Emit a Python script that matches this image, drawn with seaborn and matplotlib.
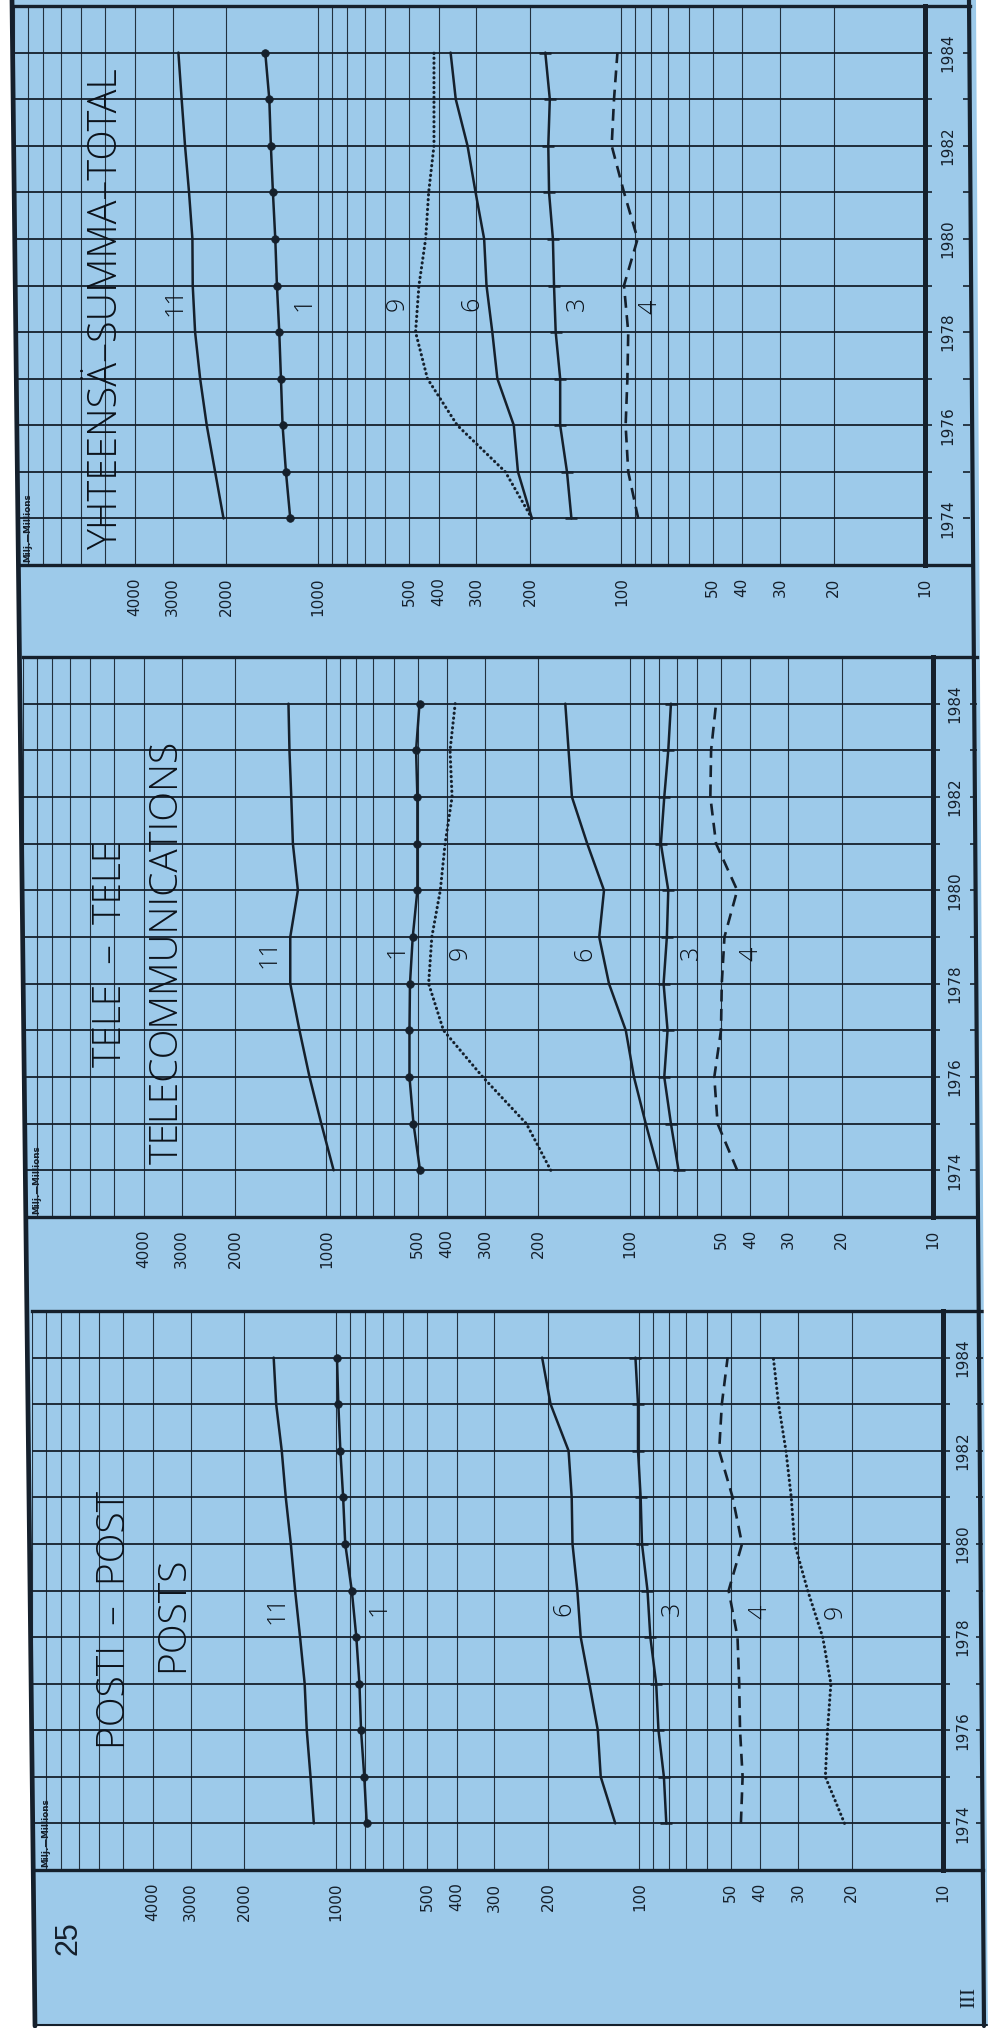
import matplotlib
matplotlib.use("Agg")
import matplotlib.pyplot as plt
import seaborn as sns
from matplotlib.lines import Line2D
from matplotlib.patches import Polygon
from matplotlib.ticker import NullLocator

# ------------------------------------------------------------------ data
YEARS = [1974, 1975, 1976, 1977, 1978, 1979, 1980, 1981, 1982, 1983, 1984]

# POSTI - POST - POSTS (millions)
POSTS_11 = [1180, 1210, 1245, 1265, 1310, 1360, 1405, 1460, 1505, 1570, 1600]
POSTS_1 = [790, 805, 825, 835, 855, 885, 930, 945, 965, 980, 990]
POSTS_6 = [120, 134, 137, 146, 156, 160, 166, 167, 171, 196, 209]
POSTS_3 = [81.5, 83, 86.5, 88, 92, 94, 98, 99, 101, 101, 103]
POSTS_4 = [46.3, 45.7, 46.6, 46.9, 47.5, 50.8, 45.9, 49.3, 54.6, 53.5, 51.2]
POSTS_9 = [21.1, 24.4, 24.0, 23.4, 24.9, 27.9, 30.8, 31.6, 32.9, 34.8, 36.2]

# TELE - TELE - TELECOMMUNICATIONS
TELE_11 = [946, 1039, 1136, 1226, 1315, 1315, 1241, 1289, 1305, 1323, 1333]
TELE_1 = [491, 516, 532, 532, 530, 519, 501, 501, 501, 506, 493]
TELE_9 = [182, 219, 305, 411, 460, 449, 421, 406, 385, 391, 376]
TELE_6 = [80.4, 88.5, 96.8, 103, 117, 126, 121.5, 138, 155, 159, 163]
TELE_3 = [69, 73.1, 76.9, 75, 77.3, 75.4, 74.6, 78.9, 76.9, 74.6, 73.1]
TELE_4 = [44.2, 51.3, 52.6, 50, 49.7, 48.7, 44.2, 51.9, 54.2, 53.9, 51.9]

# YHTEENSÄ - SUMMA - TOTAL
TOTAL_11 = [2042, 2176, 2319, 2438, 2533, 2579, 2585, 2652, 2734, 2805, 2875]
TOTAL_1 = [1231, 1272, 1305, 1321, 1338, 1362, 1379, 1404, 1426, 1443, 1488]
TOTAL_9 = [197, 241, 347, 435, 476, 464, 441, 431, 414, 414, 414]
TOTAL_6 = [197, 219, 226, 256, 266, 278, 283, 302, 321, 351, 365]
TOTAL_3 = [146, 151, 159, 159, 164.5, 166.6, 168, 173, 174, 172, 178]
TOTAL_4 = [88, 94.9, 96.8, 95.5, 94.9, 98, 88.4, 98, 107.6, 105.7, 103]

VALUE_TICKS = [10, 20, 30, 40, 50, 100, 200, 300, 400, 500, 1000, 2000, 3000, 4000]
YEAR_TICKS = [1974, 1976, 1978, 1980, 1982, 1984]
SERIES_NAMES = ["11", "1", "6", "3", "4", "9"]

PANEL_DATA = {
    "posts": {"11": POSTS_11, "1": POSTS_1, "6": POSTS_6, "3": POSTS_3, "4": POSTS_4, "9": POSTS_9},
    "tele": {"11": TELE_11, "1": TELE_1, "6": TELE_6, "3": TELE_3, "4": TELE_4, "9": TELE_9},
    "total": {"11": TOTAL_11, "1": TOTAL_1, "6": TOTAL_6, "3": TOTAL_3, "4": TOTAL_4, "9": TOTAL_9},
}
TITLES = {
    "posts": ["POSTI  –  POST", "POSTS"],
    "tele": ["TELE  –  TELE", "TELECOMMUNICATIONS"],
    "total": ["YHTEENSÄ–SUMMA–TOTAL"],
}
PAGE_NUMBER = "25"
SECTION = "III"
UNIT = "Milj.—Millions"

# ------------------------------------------------------------------ layout / style
W, H = 993, 2028
BLUE = "#9DCAEA"
INK = "#15202c"
THIN = ["Open Sans", "Roboto", "DejaVu Sans"]

# pixel boxes of grids: (left, top, right(=value 10), bottom), outer right edge
LAYOUT = {
    "total": dict(grid=(14, 6, 925, 565), edge=970),
    "tele": dict(grid=(23, 657, 933, 1217), edge=977),
    "posts": dict(grid=(32, 1311, 943, 1870), edge=983),
}
TITLE_POS = {
    "posts": [(0.091, 0.447), (0.155, 0.458)],
    "tele": [(0.096, 0.470), (0.159, 0.473)],
    "total": [(0.101, 0.460)],
}
TITLE_SIZE = {"posts": 28, "tele": 28, "total": 28.5}
LABEL_POS = {
    "posts": {"11": (1565, 1978.6), "1": (721, 1978.6), "6": (177, 1978.6),
              "3": (77.8, 1978.6), "4": (40.2, 1978.55), "9": (22.7, 1978.55)},
    "tele": {"11": (1544, 1978.65), "1": (586, 1978.7), "9": (363, 1978.65),
             "6": (140, 1978.65), "3": (62.8, 1978.65), "4": (39.7, 1978.65)},
    "total": {"11": (2942, 1978.65), "1": (1112, 1978.6), "9": (548, 1978.6),
              "6": (310, 1978.6), "3": (139.6, 1978.6), "4": (80.2, 1978.55)},
}
STYLE = {
    "11": dict(linewidth=1.8),
    "1": dict(linewidth=1.8, marker="o", markersize=5.5, markerfacecolor=INK,
              markeredgecolor=INK, markeredgewidth=0.5),
    "6": dict(linewidth=1.8),
    "3": dict(linewidth=1.8, marker="_", markersize=8, markeredgecolor=INK,
              markeredgewidth=1.8),
    "4": dict(linewidth=1.9, linestyle=(0, (4.5, 2.8))),
    "9": dict(linewidth=2.2, linestyle=(0, (0.1, 1.5)), dash_capstyle="round"),
}


def frac_rect(x0, y0, x1, y1):
    return [x0 / W, 1 - y1 / H, (x1 - x0) / W, (y1 - y0) / H]


def fpt(x, y):
    return (x / W, 1 - y / H)


sns.set_style("white")
plt.rcParams["font.family"] = ["DejaVu Sans"]

fig = plt.figure(figsize=(W / 100, H / 100), dpi=100, facecolor="white")

page = Polygon([fpt(10, 0), fpt(977, 0), fpt(988, 2026), fpt(33, 2026)], closed=True,
               transform=fig.transFigure, facecolor=BLUE, edgecolor="none", zorder=-5)
fig.add_artist(page)

GRID_VALUES = [m * 10 ** e for e in (1, 2, 3) for m in range(1, 10)] + [10000]

for key in ["total", "tele", "posts"]:
    gx0, gy0, gx1, gy1 = LAYOUT[key]["grid"]
    edge = LAYOUT[key]["edge"]
    ax = fig.add_axes(frac_rect(gx0, gy0, gx1, gy1))
    ax.set_facecolor("none")
    ax.set_xscale("log")
    ax.set_axisbelow(True)

    for name in SERIES_NAMES:
        sns.lineplot(x=PANEL_DATA[key][name], y=YEARS, ax=ax, sort=False,
                     estimator=None, legend=False, color=INK, **STYLE[name])

    ax.set_xlim(10000, 10)
    ax.set_ylim(1973, 1985)
    ax.set_xlabel("")
    ax.set_ylabel("")
    ax.set_xticks(GRID_VALUES)
    ax.set_xticklabels([str(v) if v in VALUE_TICKS else "" for v in GRID_VALUES])
    ax.xaxis.set_minor_locator(NullLocator())
    ax.tick_params(axis="x", which="major", length=0, pad=9, labelsize=11,
                   labelrotation=90, labelcolor=INK)
    ax.set_yticks(YEARS)
    ax.yaxis.set_minor_locator(NullLocator())
    ax.tick_params(axis="y", length=0, labelleft=False)
    ax.grid(True, axis="x", which="major", color=INK, linewidth=0.8, alpha=0.9)
    ax.grid(True, axis="y", which="major", color=INK, linewidth=1.3)
    ax.spines["left"].set_visible(False)
    ax.spines["right"].set_linewidth(3.6)
    for s in ("top", "bottom"):
        ax.spines[s].set_linewidth(2.4)
    for s in ("right", "top", "bottom"):
        ax.spines[s].set_color(INK)

    # titles
    for txt, (tx, ty) in zip(TITLES[key], TITLE_POS[key]):
        ax.text(tx, ty, txt, transform=ax.transAxes, rotation=90, ha="center",
                va="center", fontsize=TITLE_SIZE[key], family=THIN,
                fontweight="light", color="#0c121a")
    # curve labels
    for name, (lx, ly) in LABEL_POS[key].items():
        ax.text(lx, ly, name, rotation=90, ha="center", va="center", fontsize=18,
                family=THIN, fontweight="light", color="#0c121a")
    # unit note
    ax.annotate(UNIT, xy=(0, 0), xycoords="axes fraction", xytext=(14, 3),
                textcoords="offset pixels", rotation=90, ha="center", va="bottom",
                fontsize=6.3, fontweight="bold", color=INK)

    # year strip on the right
    sax = fig.add_axes(frac_rect(gx1, gy0, edge, gy1))
    sax.set_facecolor("none")
    sax.set_xlim(0, 1)
    sax.set_ylim(1973, 1985)
    sax.set_xticks([])
    sax.set_yticks(YEARS)
    sax.tick_params(axis="y", left=True, right=True, direction="in", length=5,
                    width=1.2, color=INK, labelleft=False, labelright=False)
    for s in ("left", "right"):
        sax.spines[s].set_visible(False)
    for s in ("top", "bottom"):
        sax.spines[s].set_linewidth(2.4)
        sax.spines[s].set_color(INK)
    for yr in YEAR_TICKS:
        sax.text(0.5, yr, str(yr), rotation=90, ha="center", va="center",
                 fontsize=11, color=INK)

# page decorations
fig.text(68 / W, 1 - 1938 / H, PAGE_NUMBER, rotation=90, ha="center", va="center",
         fontsize=22, family=["Liberation Sans", "DejaVu Sans"], color=INK)
fig.text(970 / W, 1 - 1997 / H, SECTION, rotation=90, ha="center", va="center",
         fontsize=15, family=["Liberation Serif", "DejaVu Serif"], color=INK)

mask_l = Polygon([fpt(0, 0), fpt(12, 0), fpt(35, 2028), fpt(0, 2028)], closed=True,
                 transform=fig.transFigure, facecolor="white", edgecolor="none", zorder=15)
mask_r = Polygon([fpt(976, 0), fpt(993, 0), fpt(993, 2028), fpt(988, 2028)], closed=True,
                 transform=fig.transFigure, facecolor="white", edgecolor="none", zorder=15)
fig.add_artist(mask_l)
fig.add_artist(mask_r)
fig.add_artist(Line2D([12 / W, 35 / W], [1, 1 - 2026 / H], transform=fig.transFigure,
                      color=INK, linewidth=3.4, zorder=20))
fig.add_artist(Line2D([969 / W, 984 / W], [1, 1 - 2026 / H], transform=fig.transFigure,
                      color=INK, linewidth=3.0, zorder=20))
fig.add_artist(Line2D([35 / W, 987 / W], [1 - 2025 / H, 1 - 2025 / H],
                      transform=fig.transFigure, color=INK, linewidth=1.5, zorder=20))

fig.savefig("out.png", dpi=100, facecolor="white")
